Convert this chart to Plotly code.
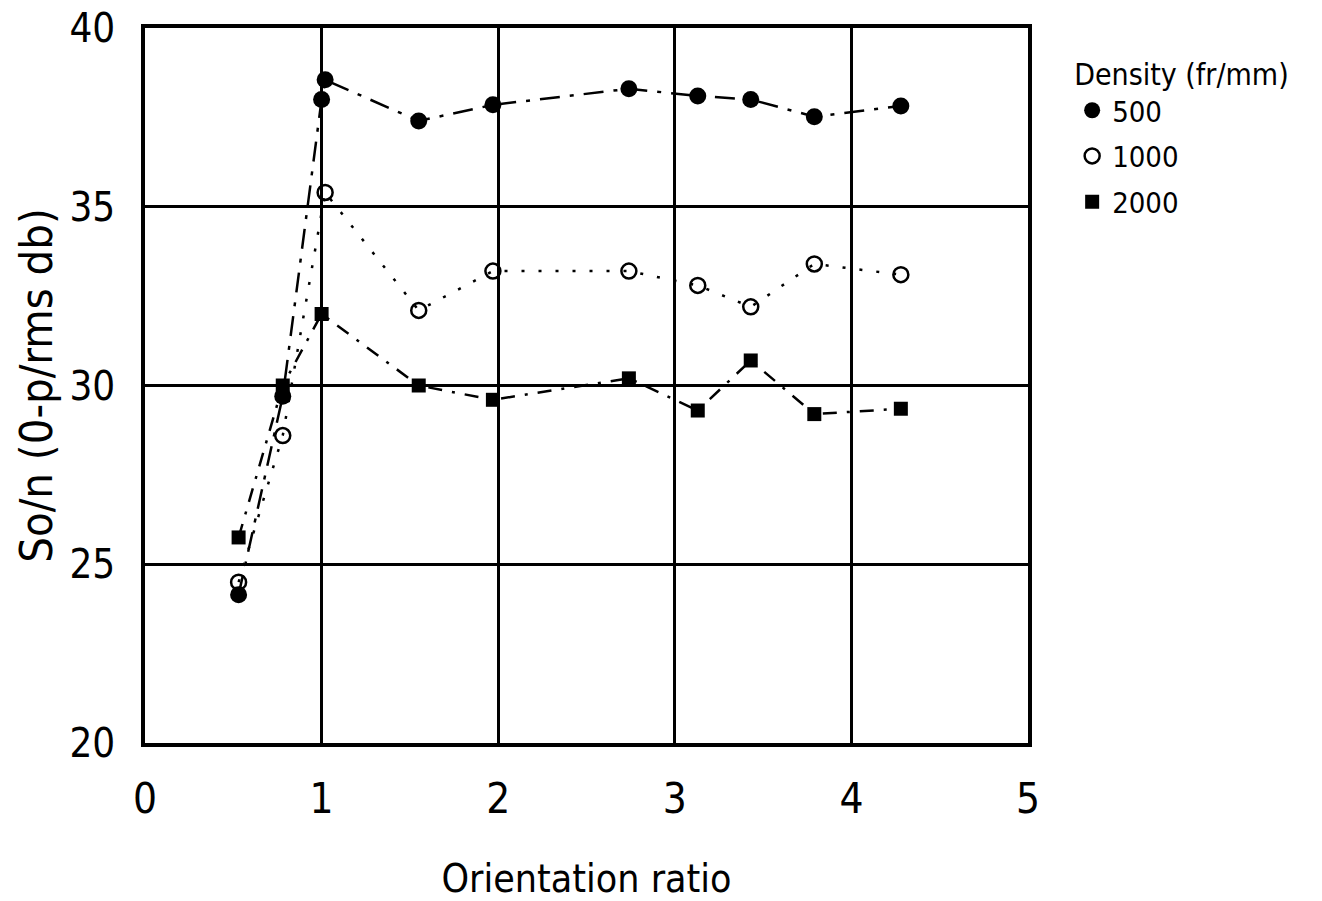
import plotly.graph_objects as go

# Orientation ratio positions at which the signal-to-noise was measured
x_500 = [0.53, 0.78, 1.0, 1.02, 1.55, 1.97, 2.74, 3.13, 3.43, 3.79, 4.28]
y_500 = [24.15, 29.7, 38.0, 38.55, 37.4, 37.85, 38.3, 38.1, 38.0, 37.52, 37.82]

x_1000 = [0.53, 0.78, 1.02, 1.55, 1.97, 2.74, 3.13, 3.43, 3.79, 4.28]
y_1000 = [24.5, 28.6, 35.4, 32.1, 33.2, 33.2, 32.8, 32.2, 33.4, 33.1]

x_2000 = [0.53, 0.78, 1.0, 1.55, 1.97, 2.74, 3.13, 3.43, 3.79, 4.28]
y_2000 = [25.75, 30.0, 32.0, 30.0, 29.6, 30.2, 29.3, 30.7, 29.2, 29.35]

x_ticks = [0, 1, 2, 3, 4, 5]
y_ticks = [20, 25, 30, 35, 40]

FONT = "DejaVu Sans Condensed, DejaVu Sans, sans-serif"

series = [
    ("500", x_500, y_500, "20px,10px,4px,10px",
     dict(symbol="circle", size=17, color="black")),
    ("1000", x_1000, y_1000, "3px,14px",
     dict(symbol="circle-open", size=15, color="black", line=dict(width=2.5, color="black"))),
    ("2000", x_2000, y_2000, "14px,10px,3px,10px",
     dict(symbol="square", size=14, color="black")),
]

fig = go.Figure()

# connecting curves, kept out of the legend
for name, xs, ys, dash, mk in series:
    fig.add_trace(go.Scatter(
        x=xs, y=ys, mode="lines", showlegend=False, hoverinfo="skip",
        line=dict(color="black", width=2.5, dash=dash),
    ))

# markers with legend entries
for name, xs, ys, dash, mk in series:
    fig.add_trace(go.Scatter(
        x=xs, y=ys, mode="markers", name=name, marker=mk, legendgroup=name,
    ))

fig.update_layout(
    width=1322, height=901,
    margin=dict(l=145, r=294, t=28, b=158),
    paper_bgcolor="white", plot_bgcolor="white",
    font=dict(family=FONT, color="black", size=24),
    legend=dict(
        title=dict(text="Density (fr/mm)", font=dict(size=30, family=FONT)),
        x=1.05, y=0.975, xanchor="left", yanchor="top",
        font=dict(size=29, family=FONT),
        tracegroupgap=5,
        bgcolor="rgba(0,0,0,0)",
    ),
)

fig.update_xaxes(
    range=[0, 5], tickvals=x_ticks, ticktext=[str(v) for v in x_ticks],
    showgrid=True, gridcolor="black", gridwidth=2.5,
    showline=True, linecolor="black", linewidth=3.5, mirror=True,
    zeroline=False, ticks="", ticklen=0, ticklabelstandoff=16,
    automargin=False,
    tickfont=dict(size=42, family=FONT),
    title=dict(text="Orientation ratio", font=dict(size=39, family=FONT), standoff=50),
)
fig.update_yaxes(
    range=[20, 40], tickvals=y_ticks, ticktext=[str(v) for v in y_ticks],
    showgrid=True, gridcolor="black", gridwidth=2.5,
    showline=True, linecolor="black", linewidth=3.5, mirror=True,
    zeroline=False, ticks="", ticklen=0, ticklabelstandoff=18,
    automargin=False,
    tickfont=dict(size=40, family=FONT),
    title=dict(text="So/n (0-p/rms db)", font=dict(size=45, family=FONT), standoff=4),
)

fig.write_html("out.html")
